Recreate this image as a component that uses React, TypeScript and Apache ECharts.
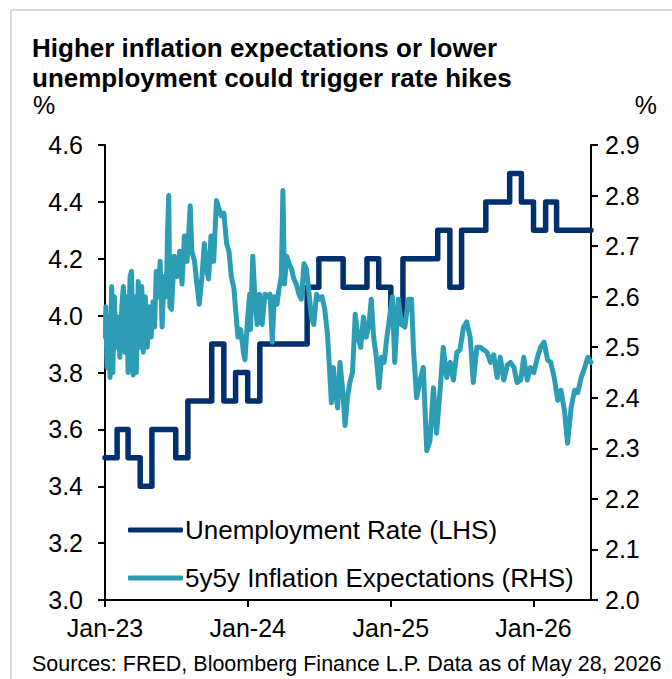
import React, { useEffect, useRef } from "react";
import * as echarts from "echarts";

const titleText = "Higher inflation expectations or lower\nunemployment could trigger rate hikes";
const sourceText = "Sources: FRED, Bloomberg Finance L.P. Data as of May 28, 2026";
const unitLeft = "%";
const unitRight = "%";
const unempName = "Unemployment Rate (LHS)";
const inflName = "5y5y Inflation Expectations (RHS)";

const xStart = "2023-01-01";
const xEnd = "2026-05-28";
const xTickDates = ["2023-01-01", "2024-01-01", "2025-01-01", "2026-01-01"];
const xTickLabels = ["Jan-23", "Jan-24", "Jan-25", "Jan-26"];

const leftAxis = { min: 3.0, max: 4.6, interval: 0.2 };
const rightAxis = { min: 2.0, max: 2.9, interval: 0.1 };

// Unemployment rate, monthly (last point = data end date)
const unempDates = [
  "2023-01-01", "2023-02-01", "2023-03-01", "2023-04-01", "2023-05-01", "2023-06-01",
  "2023-07-01", "2023-08-01", "2023-09-01", "2023-10-01", "2023-11-01", "2023-12-01",
  "2024-01-01", "2024-02-01", "2024-03-01", "2024-04-01", "2024-05-01", "2024-06-01",
  "2024-07-01", "2024-08-01", "2024-09-01", "2024-10-01", "2024-11-01", "2024-12-01",
  "2025-01-01", "2025-02-01", "2025-03-01", "2025-04-01", "2025-05-01", "2025-06-01",
  "2025-07-01", "2025-08-01", "2025-09-01", "2025-10-01", "2025-11-01", "2025-12-01",
  "2026-01-01", "2026-02-01", "2026-03-01", "2026-04-01", "2026-05-01", "2026-05-28",
];
const unempValues = [
  3.5, 3.6, 3.5, 3.4, 3.6, 3.6, 3.5, 3.7, 3.7, 3.9, 3.7, 3.8,
  3.7, 3.9, 3.9, 3.9, 3.9, 4.1, 4.2, 4.2, 4.1, 4.1, 4.2, 4.1,
  4.0, 4.2, 4.2, 4.2, 4.3, 4.1, 4.3, 4.3, 4.4, 4.4, 4.5, 4.4,
  4.3, 4.4, 4.3, 4.3, 4.3, 4.3,
];

// 5y5y inflation expectations, [date, %]
const inflPoints: [string, number][] = [
  ["2023-01-02", 2.52], ["2023-01-03", 2.58], ["2023-01-06", 2.46], ["2023-01-10", 2.56],
  ["2023-01-14", 2.44], ["2023-01-18", 2.62], ["2023-01-21", 2.45], ["2023-01-25", 2.6],
  ["2023-01-29", 2.5], ["2023-02-03", 2.56], ["2023-02-08", 2.48], ["2023-02-13", 2.58],
  ["2023-02-17", 2.62], ["2023-02-21", 2.49], ["2023-02-25", 2.6], ["2023-03-01", 2.45],
  ["2023-03-06", 2.64], ["2023-03-10", 2.65], ["2023-03-14", 2.445], ["2023-03-18", 2.6],
  ["2023-03-22", 2.45], ["2023-03-27", 2.63], ["2023-04-01", 2.5], ["2023-04-05", 2.62],
  ["2023-04-09", 2.49], ["2023-04-14", 2.6], ["2023-04-19", 2.5], ["2023-04-24", 2.58],
  ["2023-04-29", 2.52], ["2023-05-04", 2.59], ["2023-05-08", 2.54], ["2023-05-12", 2.65],
  ["2023-05-17", 2.6], ["2023-05-22", 2.67], ["2023-05-27", 2.54], ["2023-06-01", 2.64],
  ["2023-06-07", 2.6], ["2023-06-10", 2.73], ["2023-06-13", 2.8], ["2023-06-16", 2.58],
  ["2023-06-20", 2.575], ["2023-06-27", 2.68], ["2023-07-04", 2.64], ["2023-07-11", 2.69],
  ["2023-07-17", 2.625], ["2023-07-23", 2.72], ["2023-07-30", 2.67], ["2023-08-03", 2.725],
  ["2023-08-07", 2.78], ["2023-08-11", 2.69], ["2023-08-18", 2.67], ["2023-08-24", 2.625],
  ["2023-08-30", 2.585], ["2023-09-06", 2.64], ["2023-09-12", 2.705], ["2023-09-17", 2.655],
  ["2023-09-23", 2.635], ["2023-09-29", 2.72], ["2023-10-06", 2.67], ["2023-10-13", 2.79],
  ["2023-10-19", 2.775], ["2023-10-25", 2.76], ["2023-11-01", 2.765], ["2023-11-08", 2.705],
  ["2023-11-14", 2.69], ["2023-11-20", 2.64], ["2023-11-27", 2.615], ["2023-12-01", 2.575],
  ["2023-12-07", 2.52], ["2023-12-14", 2.535], ["2023-12-21", 2.49], ["2023-12-25", 2.475],
  ["2024-01-01", 2.56], ["2024-01-06", 2.605], ["2024-01-08", 2.535], ["2024-01-14", 2.68],
  ["2024-01-19", 2.605], ["2024-01-25", 2.545], ["2024-01-31", 2.605], ["2024-02-07", 2.545],
  ["2024-02-14", 2.605], ["2024-02-21", 2.6], ["2024-02-27", 2.605], ["2024-03-04", 2.51],
  ["2024-03-09", 2.6], ["2024-03-16", 2.585], ["2024-03-21", 2.615], ["2024-03-27", 2.64],
  ["2024-03-31", 2.81], ["2024-04-04", 2.625], ["2024-04-10", 2.68], ["2024-04-16", 2.665],
  ["2024-04-22", 2.655], ["2024-04-28", 2.635], ["2024-05-04", 2.625], ["2024-05-11", 2.605],
  ["2024-05-17", 2.595], ["2024-05-24", 2.665], ["2024-05-30", 2.655], ["2024-06-06", 2.605],
  ["2024-06-12", 2.56], ["2024-06-18", 2.545], ["2024-06-25", 2.605], ["2024-07-02", 2.595],
  ["2024-07-09", 2.6], ["2024-07-16", 2.575], ["2024-07-23", 2.525], ["2024-07-28", 2.46],
  ["2024-08-02", 2.39], ["2024-08-07", 2.46], ["2024-08-12", 2.415], ["2024-08-18", 2.38],
  ["2024-08-24", 2.47], ["2024-08-31", 2.415], ["2024-09-06", 2.345], ["2024-09-12", 2.4],
  ["2024-09-18", 2.43], ["2024-09-25", 2.45], ["2024-10-02", 2.565], ["2024-10-09", 2.52],
  ["2024-10-16", 2.5], ["2024-10-23", 2.56], ["2024-10-30", 2.52], ["2024-11-06", 2.545],
  ["2024-11-12", 2.595], ["2024-11-18", 2.52], ["2024-11-25", 2.48], ["2024-12-02", 2.42],
  ["2024-12-08", 2.48], ["2024-12-15", 2.47], ["2024-12-22", 2.52], ["2024-12-29", 2.56],
  ["2025-01-05", 2.6], ["2025-01-11", 2.47], ["2025-01-20", 2.595], ["2025-01-28", 2.545],
  ["2025-02-06", 2.54], ["2025-02-15", 2.595], ["2025-02-23", 2.595], ["2025-02-28", 2.495],
  ["2025-03-08", 2.4], ["2025-03-17", 2.435], ["2025-03-25", 2.46], ["2025-04-03", 2.295],
  ["2025-04-11", 2.315], ["2025-04-20", 2.42], ["2025-04-28", 2.33], ["2025-05-07", 2.415],
  ["2025-05-15", 2.5], ["2025-05-24", 2.44], ["2025-06-02", 2.47], ["2025-06-10", 2.435],
  ["2025-06-19", 2.49], ["2025-06-27", 2.495], ["2025-07-06", 2.54], ["2025-07-14", 2.55],
  ["2025-07-23", 2.52], ["2025-07-31", 2.43], ["2025-08-09", 2.5], ["2025-08-18", 2.5],
  ["2025-08-26", 2.495], ["2025-09-04", 2.49], ["2025-09-13", 2.47], ["2025-09-21", 2.485],
  ["2025-09-30", 2.44], ["2025-10-08", 2.48], ["2025-10-17", 2.435], ["2025-10-26", 2.465],
  ["2025-11-03", 2.47], ["2025-11-12", 2.46], ["2025-11-20", 2.43], ["2025-11-29", 2.435],
  ["2025-12-07", 2.48], ["2025-12-16", 2.435], ["2025-12-24", 2.46], ["2026-01-02", 2.45],
  ["2026-01-11", 2.48], ["2026-01-19", 2.5], ["2026-01-28", 2.51], ["2026-02-06", 2.475],
  ["2026-02-14", 2.47], ["2026-02-23", 2.44], ["2026-03-04", 2.395], ["2026-03-12", 2.415],
  ["2026-03-21", 2.375], ["2026-03-29", 2.31], ["2026-04-07", 2.38], ["2026-04-16", 2.415],
  ["2026-04-24", 2.41], ["2026-05-03", 2.44], ["2026-05-12", 2.46], ["2026-05-20", 2.48],
  ["2026-05-28", 2.47],
];

const FONT = "'Liberation Sans', Arial, Helvetica, sans-serif";
const NAVY = "#00306E";
const TEAL = "#2C9DB4";

function ts(s: string): number {
  const [y, m, d] = s.split("-").map(Number);
  return Date.UTC(y, m - 1, d);
}

export default function App() {
  const ref = useRef<HTMLDivElement>(null);

  useEffect(() => {
    document.body.style.margin = "0";
    if (!ref.current) return;
    const chart = echarts.init(ref.current, undefined, { renderer: "svg" });
    const tickTs = xTickDates.map(ts);

    const option: any = {
      animation: false,
      backgroundColor: "#ffffff",
      textStyle: { fontFamily: FONT, color: "#000" },
      title: {
        text: titleText,
        left: 32,
        top: 33,
        padding: 0,
        textStyle: {
          fontFamily: FONT,
          fontSize: 26,
          fontWeight: "bold",
          color: "#000",
          lineHeight: 30,
        },
      },
      graphic: [
        {
          type: "rect",
          silent: true,
          shape: { x: 11, y: 10, width: 700, height: 700 },
          style: { fill: "none", stroke: "#D9D9D9", lineWidth: 2 },
        },
        {
          type: "text",
          x: 33,
          y: 105,
          style: { text: unitLeft, font: `25px ${FONT}`, fill: "#000", textVerticalAlign: "middle" },
        },
        {
          type: "text",
          x: 657,
          y: 105,
          style: { text: unitRight, font: `25px ${FONT}`, fill: "#000", textAlign: "right", textVerticalAlign: "middle" },
        },
        {
          type: "text",
          x: 32,
          y: 664,
          style: { text: sourceText, font: `21.5px ${FONT}`, fill: "#000", textVerticalAlign: "middle" },
        },
      ],
      legend: {
        data: [unempName, inflName],
        orient: "vertical",
        left: 128,
        top: 517,
        padding: 0,
        itemWidth: 55,
        itemHeight: 5,
        itemGap: 22,
        icon: "roundRect",
        textStyle: { fontFamily: FONT, fontSize: 26, color: "#000", padding: [0, 0, 0, -3] },
        selectedMode: false,
      },
      grid: {
        left: 105,
        right: 81,
        top: 145,
        bottom: 79,
        containLabel: false,
        outerBoundsMode: "none",
      },
      xAxis: {
        type: "value",
        min: ts(xStart),
        max: ts(xEnd),
        axisLine: { show: true, onZero: false, lineStyle: { color: "#000", width: 2 } },
        axisTick: { show: true, length: 7, inside: false, customValues: tickTs, lineStyle: { color: "#000", width: 2 } },
        axisLabel: {
          customValues: tickTs,
          margin: 15,
          fontFamily: FONT,
          fontSize: 25,
          color: "#000",
          formatter: (v: number) => {
            const i = tickTs.indexOf(v);
            return i >= 0 ? xTickLabels[i] : "";
          },
        },
        splitLine: { show: false },
      },
      yAxis: [
        {
          type: "value",
          position: "left",
          min: leftAxis.min,
          max: leftAxis.max,
          interval: leftAxis.interval,
          axisLine: { show: true, lineStyle: { color: "#000", width: 2 } },
          axisTick: { show: true, length: 7, lineStyle: { color: "#000", width: 2 } },
          axisLabel: {
            margin: 22,
            fontFamily: FONT,
            fontSize: 25,
            color: "#000",
            formatter: (v: number) => v.toFixed(1),
          },
          splitLine: { show: false },
        },
        {
          type: "value",
          position: "right",
          min: rightAxis.min,
          max: rightAxis.max,
          interval: rightAxis.interval,
          axisLine: { show: true, lineStyle: { color: "#000", width: 2 } },
          axisTick: { show: true, length: 7, lineStyle: { color: "#000", width: 2 } },
          axisLabel: {
            margin: 14,
            fontFamily: FONT,
            fontSize: 25,
            color: "#000",
            formatter: (v: number) => v.toFixed(1),
          },
          splitLine: { show: false },
        },
      ],
      series: [
        {
          name: unempName,
          type: "line",
          yAxisIndex: 0,
          step: "end",
          symbol: "none",
          showSymbol: false,
          color: NAVY,
          lineStyle: { color: NAVY, width: 5.5, join: "round", cap: "round" },
          data: unempDates.map((d, i) => [ts(d), unempValues[i]]),
        },
        {
          name: inflName,
          type: "line",
          yAxisIndex: 1,
          symbol: "none",
          showSymbol: false,
          color: TEAL,
          lineStyle: { color: TEAL, width: 5, join: "round", cap: "round" },
          data: inflPoints.map(([d, v]) => [ts(d), v]),
        },
      ],
    };

    chart.setOption(option);
    return () => chart.dispose();
  }, []);

  return <div ref={ref} style={{ width: 672, height: 679 }} />;
}
